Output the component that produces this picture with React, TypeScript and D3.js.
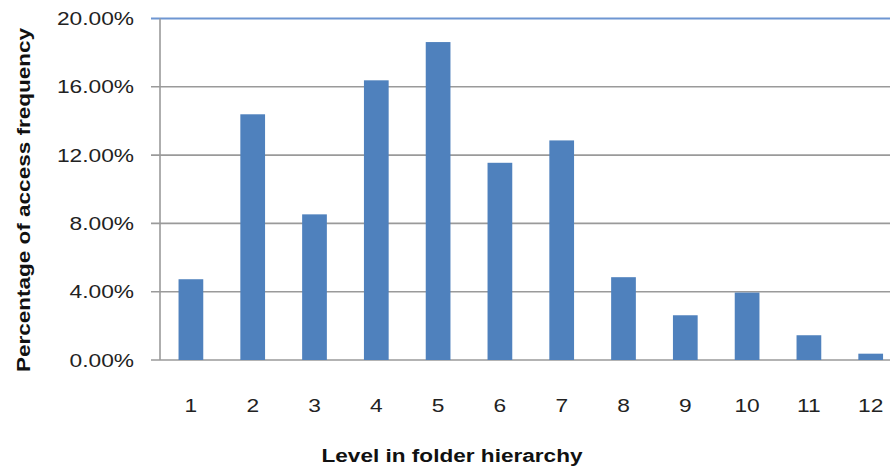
import React from "react";
import * as d3 from "d3";

// Share of access frequency by folder depth (percent)
const levels: string[] = ["1", "2", "3", "4", "5", "6", "7", "8", "9", "10", "11", "12"];
const shares: number[] = [4.73, 14.39, 8.53, 16.38, 18.62, 11.55, 12.86, 4.85, 2.62, 3.95, 1.45, 0.37];
const yTicks: number[] = [0, 4, 8, 12, 16, 20];

const W = 890;
const H = 466;
const left = 160;
const top = 18.5;
const bottom = 360;
const step = 61.8;

const FONT = "'Liberation Sans', Arial, sans-serif";

export default function App() {
  const x = d3
    .scaleBand<string>()
    .domain(levels)
    .range([left, left + step * levels.length])
    .paddingInner(0.6)
    .paddingOuter(0.3);
  const y = d3.scaleLinear().domain([0, 20]).range([bottom, top]);
  const fmt = (v: number) => d3.format(".2f")(v) + "%";

  return (
    <svg
      width={W}
      height={H}
      style={{ position: "absolute", left: 0, top: 0, background: "#fff" }}
    >
      {/* horizontal gridlines and y ticks */}
      {yTicks.map((t) => (
        <g key={t}>
          <line
            x1={left - 9}
            x2={W}
            y1={y(t)}
            y2={y(t)}
            stroke={t === 20 ? "#6e96d2" : "#9a9a9a"}
            strokeWidth={t === 20 ? 2 : 1.6}
          />
          <text
            transform={`translate(134,${y(t) + 6.5}) scale(1.3,1)`}
            textAnchor="end"
            fontFamily={FONT}
            fontSize={17.5}
            fill="#222"
          >
            {fmt(t)}
          </text>
        </g>
      ))}
      {/* y axis */}
      <line x1={left} x2={left} y1={top} y2={bottom} stroke="#9a9a9a" strokeWidth={1.6} />
      {/* bars */}
      {levels.map((c, i) => (
        <rect
          key={c}
          x={x(c)!}
          y={y(shares[i])}
          width={x.bandwidth()}
          height={bottom - y(shares[i])}
          fill="#4f81bd"
        />
      ))}
      {/* x tick labels */}
      {levels.map((c) => (
        <text
          key={c}
          transform={`translate(${x(c)! + x.bandwidth() / 2},411.5) scale(1.3,1)`}
          textAnchor="middle"
          fontFamily={FONT}
          fontSize={17.5}
          fill="#222"
        >
          {c}
        </text>
      ))}
      {/* axis titles */}
      <text
        x={452}
        y={462}
        textAnchor="middle"
        fontFamily={FONT}
        fontWeight="bold"
        fontSize={18}
        fill="#111"
        textLength={261}
        lengthAdjust="spacingAndGlyphs"
      >
        Level in folder hierarchy
      </text>
      <text
        transform="translate(30,200) rotate(-90)"
        textAnchor="middle"
        fontFamily={FONT}
        fontWeight="bold"
        fontSize={19}
        fill="#111"
        textLength={344}
        lengthAdjust="spacingAndGlyphs"
      >
        Percentage of access  frequency
      </text>
    </svg>
  );
}
